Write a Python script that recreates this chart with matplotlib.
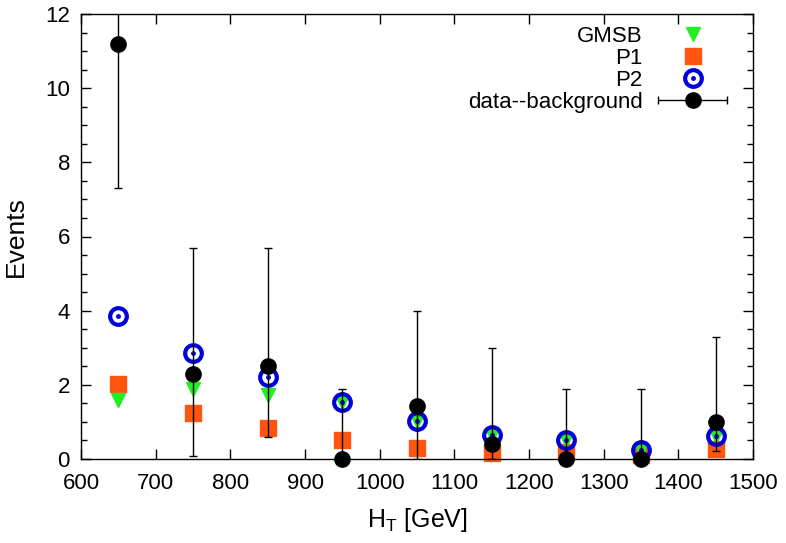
import matplotlib
matplotlib.use("Agg")
import numpy as np
import matplotlib.pyplot as plt
from matplotlib.ticker import MultipleLocator
from matplotlib.lines import Line2D
from matplotlib.legend_handler import HandlerErrorbar

plt.rcParams['font.family'] = ['Liberation Sans', 'DejaVu Sans']

ht = [650, 750, 850, 950, 1050, 1150, 1250, 1350, 1450]
gmsb = [1.59, 1.88, 1.72, 1.55, 1.02, 0.66, 0.5, 0.25, 0.62]
p1 = [2.02, 1.24, 0.84, 0.5, 0.3, 0.15, 0.2, 0.1, 0.28]
p2 = [3.85, 2.87, 2.2, 1.55, 1.02, 0.66, 0.51, 0.25, 0.63]
data = [11.2, 2.3, 2.5, 0.0, 1.42, 0.4, 0.0, 0.0, 1.0]
err_lo = [7.3, 0.08, 0.6, 0.0, 0.0, 0.0, 0.0, 0.0, 0.22]
err_hi = [14.0, 5.7, 5.7, 1.9, 4.0, 3.0, 1.9, 1.9, 3.3]

GREEN = '#22ee22'
ORANGE = '#ff5511'
BLUE = '#0000dd'

fig = plt.figure(figsize=(7.86, 5.43), dpi=100)
ax = fig.add_axes([81/786, 1-459/543, (753-81)/786, (459-14)/543])

ax.plot(ht, gmsb, linestyle='none', marker='v', color=GREEN, markersize=10,
        zorder=3, clip_on=False)
ax.plot(ht, p1, linestyle='none', marker='s', color=ORANGE, markersize=11,
        zorder=2, clip_on=False)
ax.plot(ht, p2, linestyle='none', marker='o', markerfacecolor='none',
        markeredgecolor=BLUE, markeredgewidth=3, markersize=12, zorder=4, clip_on=False)
ax.plot(ht, p2, linestyle='none', marker='o', color=BLUE, markersize=2.5, zorder=4)
yerr = [[d - l for d, l in zip(data, err_lo)], [h - d for d, h in zip(data, err_hi)]]
eb = ax.errorbar(ht, data, yerr=yerr, fmt='o', color='black', markersize=11,
                 ecolor='black', elinewidth=1, capsize=3, capthick=1, zorder=5)
eb[0].set_clip_on(False)

# legend-only handle for the data entry (horizontal error bar)
leg_eb = ax.errorbar([np.nan], [np.nan], xerr=[[1], [1]], fmt='o', color='black',
                     markersize=11, elinewidth=1, capsize=3, capthick=1)

ax.set_xlim(600, 1500)
ax.set_ylim(0, 12)
ax.xaxis.set_major_locator(MultipleLocator(100))
ax.yaxis.set_major_locator(MultipleLocator(2))
ax.yaxis.set_minor_locator(MultipleLocator(0.5))
ax.tick_params(which='both', direction='in', top=True, right=True, labelsize=16, width=1)
ax.tick_params(axis='x', which='major', length=7, pad=10)
ax.tick_params(axis='y', which='major', length=7, pad=8)
ax.tick_params(which='minor', length=4)
for s in ax.spines.values():
    s.set_linewidth(1)

ax.set_xlabel('H$_\\mathregular{T}$ [GeV]', fontsize=18)
ax.xaxis.set_label_coords(0.5, (459-506)/445)
ax.set_ylabel('Events', fontsize=19)
ax.yaxis.set_label_coords((28-81)/672, 0.5)

h_gmsb = Line2D([], [], linestyle='none', marker='v', color=GREEN, markersize=10)
h_p1 = Line2D([], [], linestyle='none', marker='s', color=ORANGE, markersize=11)
h_p2a = Line2D([], [], linestyle='none', marker='o', markerfacecolor='none',
               markeredgecolor=BLUE, markeredgewidth=3, markersize=12)
h_p2b = Line2D([], [], linestyle='none', marker='o', color=BLUE, markersize=2.5)

leg = ax.legend([h_gmsb, h_p1, (h_p2a, h_p2b), leg_eb],
                ['GMSB', 'P1', 'P2', 'data--background'],
                loc='upper right', bbox_to_anchor=(1 - 26/672, 1 - 12/445), frameon=False,
                fontsize=16, markerfirst=False, handlelength=3.1,
                labelspacing=0.04, handletextpad=0.7, borderaxespad=0.0, borderpad=0.0,
                handler_map={type(leg_eb): HandlerErrorbar(xerr_size=1.55)})
for t in leg.get_texts():
    t.set_ha('right')

fig.savefig('out.png', dpi=100)
